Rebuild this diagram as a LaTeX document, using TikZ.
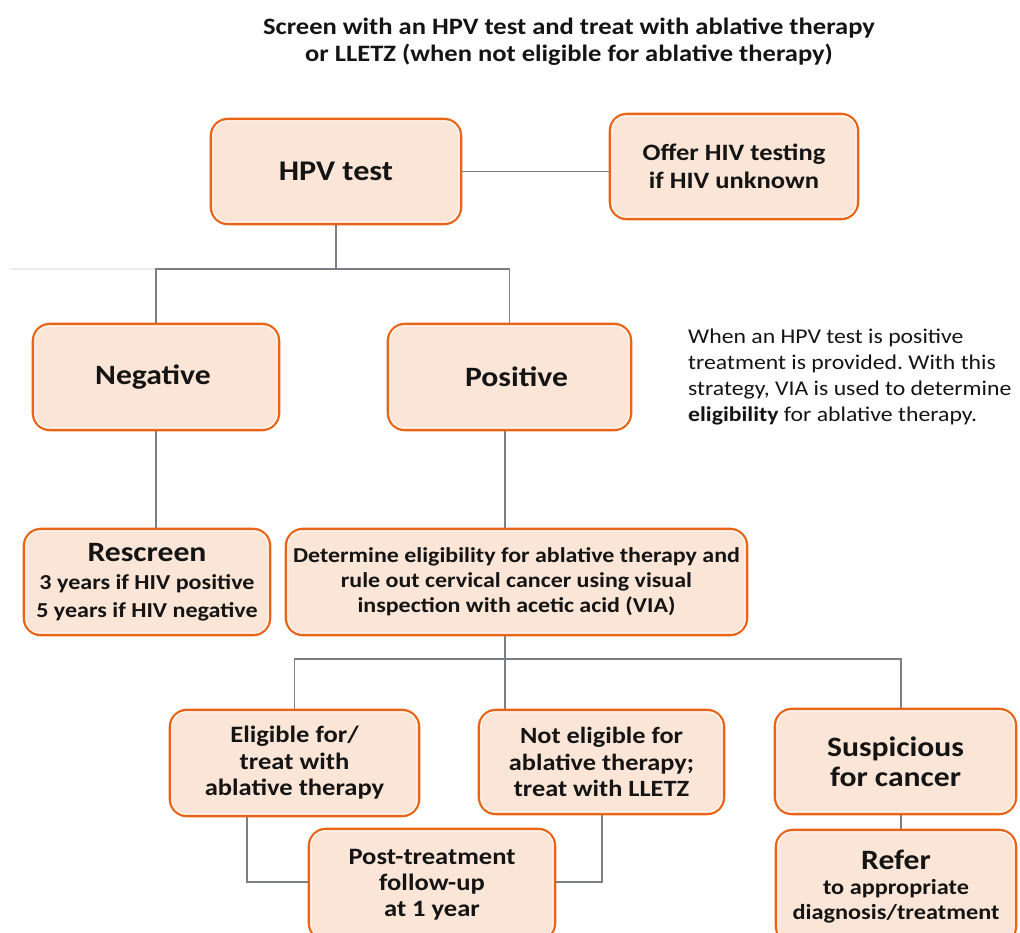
\documentclass[tikz,border=0pt]{standalone}
\usepackage{fontspec}
\setmainfont{Carlito}[FakeStretch=1.13]
\usetikzlibrary{calc}
\frenchspacing

\definecolor{boxline}{RGB}{234,100,22}
\definecolor{boxfill}{RGB}{251,229,214}
\definecolor{wirecol}{RGB}{122,126,134}
\definecolor{inkcol}{RGB}{20,20,20}

\newcommand\fsz[2]{\fontsize{#1}{#2}\selectfont}

\tikzset{
  stepbox/.style={draw=boxline, fill=boxfill, line width=2.6pt,
    rounded corners=17pt, inner sep=0pt, align=center,
    text=inkcol, font=\bfseries},
  wire/.style={draw=wirecol, line width=1.8pt},
  gloss/.style={draw=white, line width=1pt, rounded corners=14pt},
}

\begin{document}
\begin{tikzpicture}[x=1pt,y=-1pt]
\useasboundingbox (0,0) rectangle (1020,933);
\clip (0,0) rectangle (1020,933);

% heading
\node[align=center, font=\bfseries\fsz{23.5}{27}, text=inkcol] (title) at (569,42)
  {Screen with an HPV test and treat with ablative therapy\\
   or LLETZ (when not eligible for ablative therapy)};

% side note
\node[anchor=north west, align=left, font=\fsz{21}{26}, text=inkcol, inner sep=0pt] (note) at (688,329)
  {When an HPV test is positive\\
   treatment is provided. With this\\
   strategy, VIA is used to determine\\
   \textbf{eligibility} for ablative therapy.};

% boxes
\node[stepbox, minimum width=250, minimum height=105, font=\bfseries\fsz{28.5}{32}] (hpv) at (336,171.5) {HPV test};
\node[stepbox, minimum width=248, minimum height=105, font=\bfseries\fsz{23.5}{28}] (offer) at (734,166.5) {Offer HIV testing\\if HIV unknown};
\node[stepbox, minimum width=246, minimum height=106, font=\bfseries\fsz{28}{30}] (neg) at (156,377) {Negative\hspace*{6pt}};
\node[stepbox, minimum width=243, minimum height=106, font=\bfseries\fsz{28}{30}] (pos) at (509.5,377) {\hspace*{14pt}Positive};
\node[stepbox, minimum width=246, minimum height=106, font=\bfseries\fsz{21.3}{28}] (resc) at (147,582)
  {{\fsz{28}{28}Rescreen}\\3 years if HIV positive\\5 years if HIV negative};
\node[stepbox, minimum width=461, minimum height=106, font=\bfseries\fsz{21.2}{25}] (det) at (516.5,582)
  {Determine eligibility for ablative therapy and\\rule out cervical cancer using visual\\inspection with acetic acid (VIA)};
\node[stepbox, minimum width=249, minimum height=106, font=\bfseries\fsz{23.5}{26.5}] (elig) at (294.5,763)
  {Eligible for/\\treat with\\ablative therapy};
\node[stepbox, minimum width=245, minimum height=104, font=\bfseries\fsz{23.3}{26.5}] (nel) at (601.5,762)
  {Not eligible for\\ablative therapy;\\treat with LLETZ};
\node[stepbox, minimum width=241, minimum height=105, font=\bfseries\fsz{28}{30}] (susp) at (895.5,761.5)
  {Suspicious\\for cancer};
\node[stepbox, minimum width=246, minimum height=111, font=\bfseries\fsz{23.5}{26}] (post) at (432,884.5)
  {Post-treatment\\follow-up\\at 1 year};
\node[stepbox, minimum width=240, minimum height=113, font=\bfseries\fsz{21.5}{25}] (refer) at (896,886.5)
  {{\fsz{28}{28}Refer}\\to appropriate\\diagnosis/treatment};

% inner highlight along each box edge
\foreach \n in {hpv,offer,neg,pos,resc,det,elig,nel,susp,post,refer}
  \draw[gloss] ($(\n.north west)+(3.1,3.1)$) rectangle ($(\n.south east)+(-3.1,-3.1)$);

% connectors
\coordinate (bus1) at (0,269);
\coordinate (trunk) at (505,0);
\coordinate (bl) at (294,659);
\coordinate (br) at (901,659);
\coordinate (pl) at (247,882);
\coordinate (pr) at (602,882);

\draw[draw=black!7, line width=1.8pt] (10,269) -- (neg.north |- bus1);
\draw[wire] (hpv.east) -- (hpv.east -| offer.west);
\draw[wire] (hpv.south) -- (hpv.south |- bus1);
\draw[wire] (neg.north) -- (neg.north |- bus1) -- (pos.north |- bus1) -- (pos.north);
\draw[wire] (neg.south) -- (neg.south |- resc.north);
\draw[wire] (trunk |- pos.south) -- (trunk |- det.north);
\draw[wire] (trunk |- det.south) -- (trunk |- nel.north);
\draw[wire] (elig.north) -- (elig.north |- bl) -- (br) -- (br |- susp.north);
\draw[wire] (br |- susp.south) -- (br |- refer.north);
\draw[wire] (pl |- elig.south) -- (pl) -- (pl -| post.west);
\draw[wire] (pr |- nel.south) -- (pr) -- (pr -| post.east);
\end{tikzpicture}
\end{document}
